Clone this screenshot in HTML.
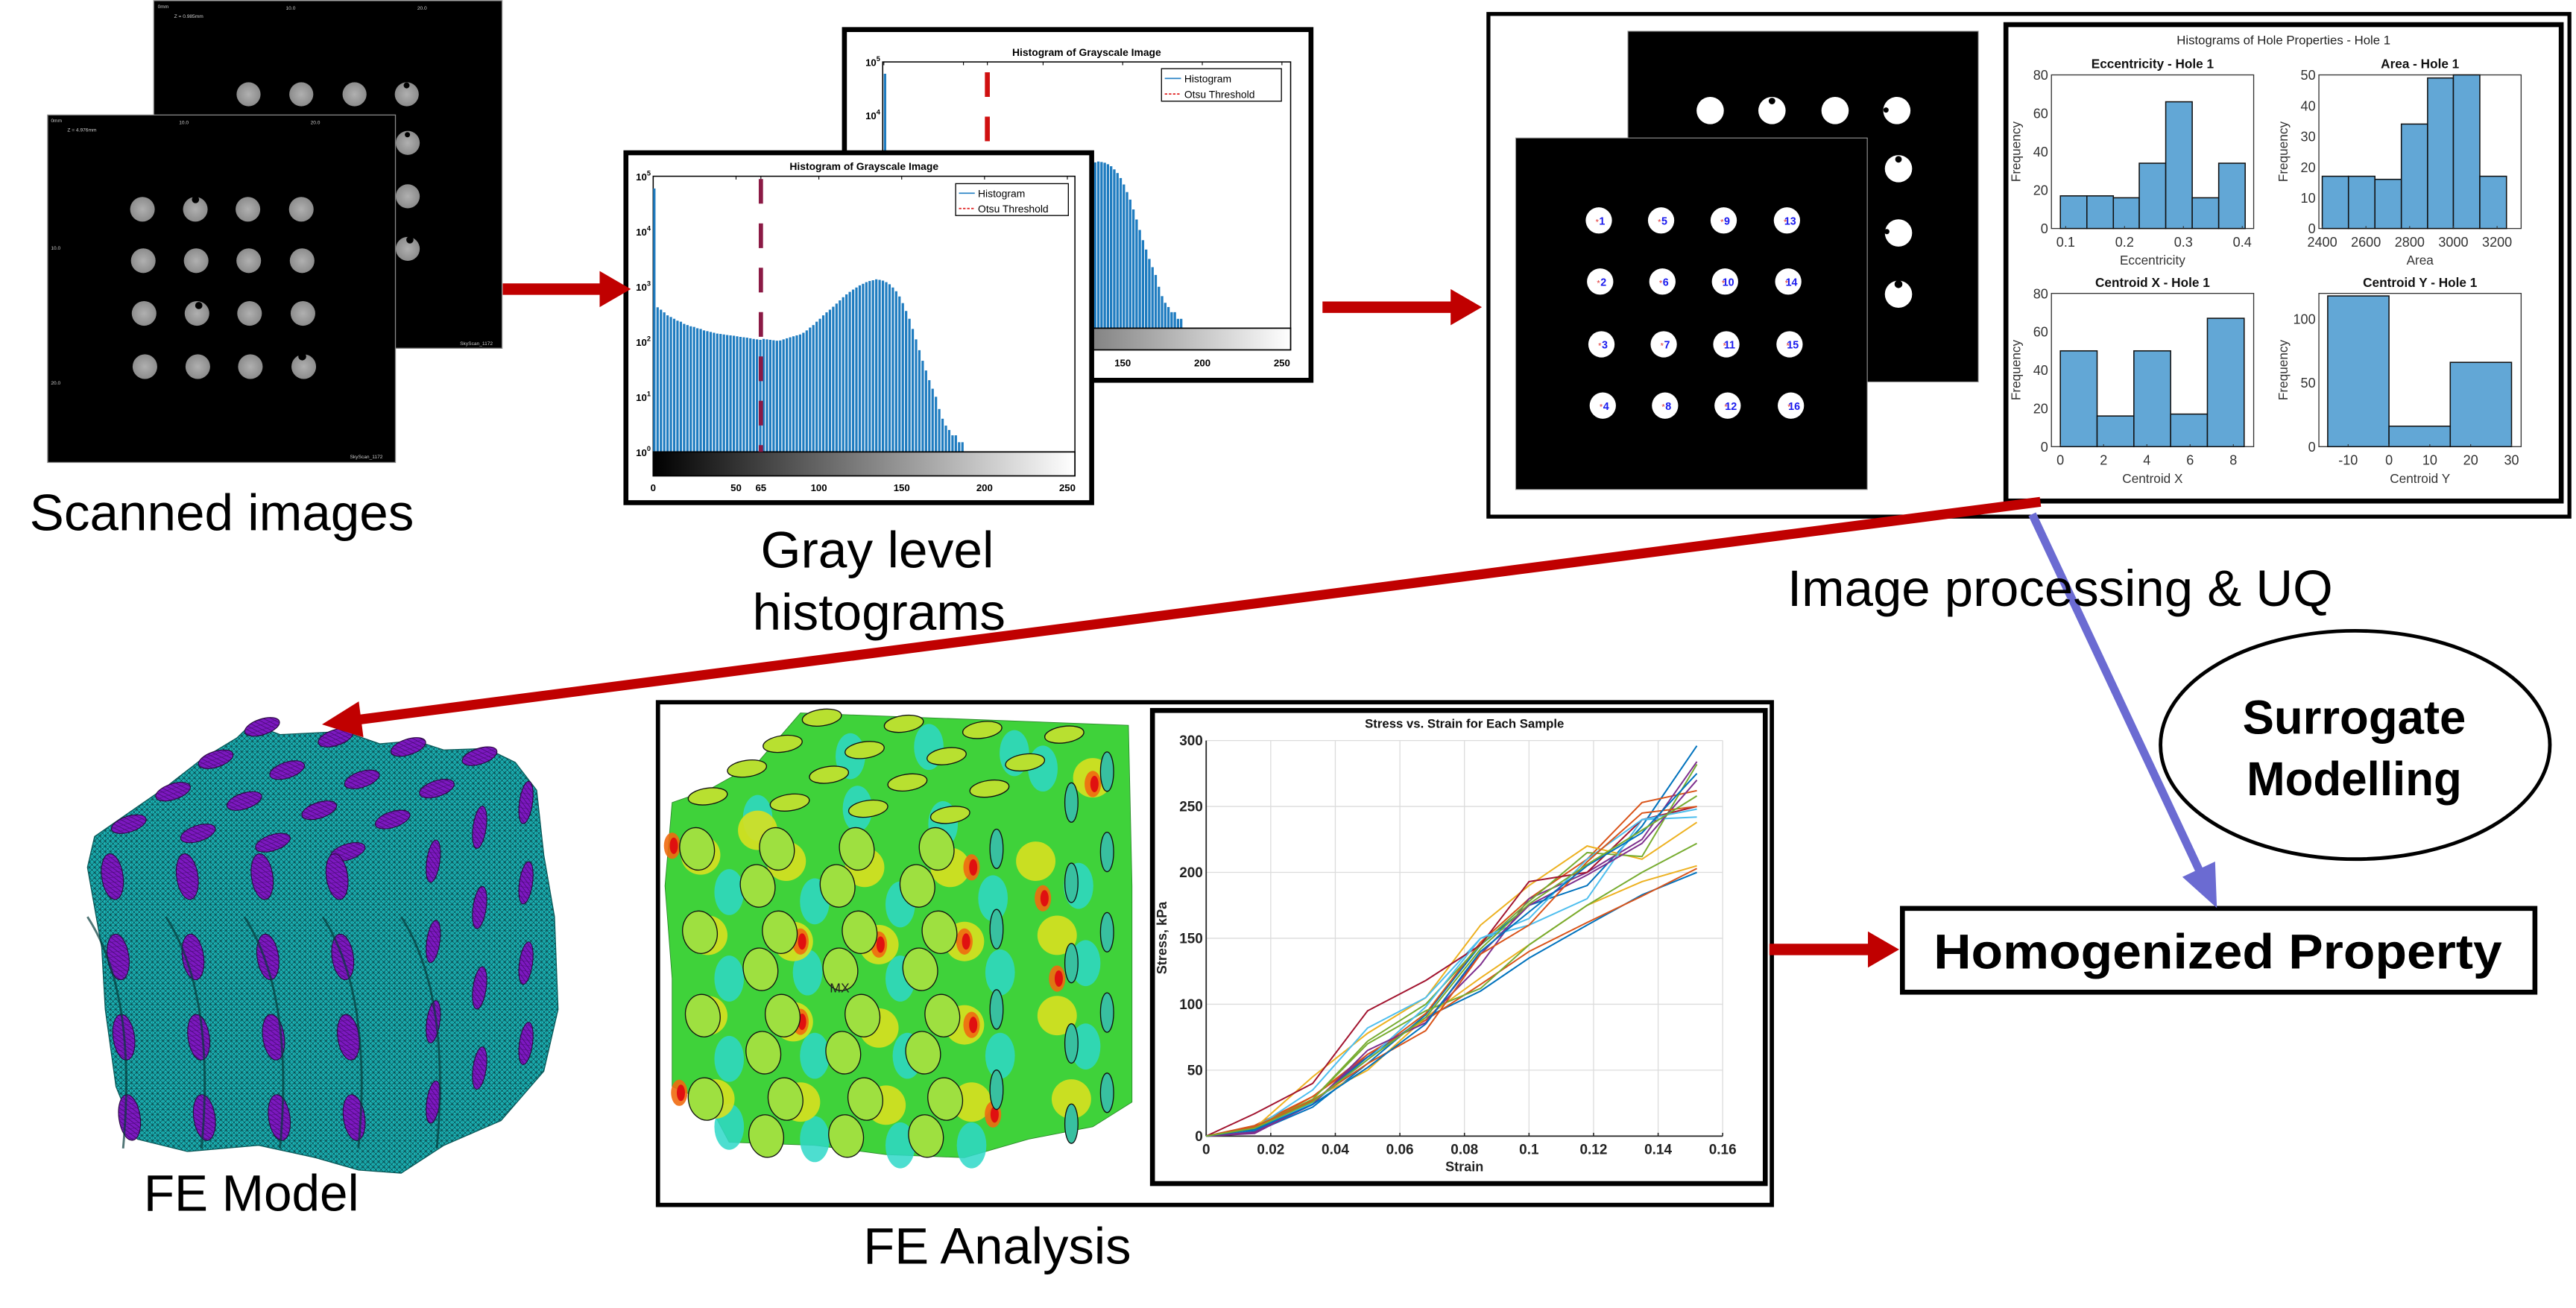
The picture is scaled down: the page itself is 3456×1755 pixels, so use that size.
<!DOCTYPE html>
<html><head><meta charset="utf-8"><title>Workflow figure</title>
<style>
html,body{margin:0;padding:0;background:#fff;}
svg{display:block;}
text{font-family:"Liberation Sans",Arial,sans-serif;}
</style></head>
<body>
<svg id="fig" xmlns="http://www.w3.org/2000/svg" width="3456" height="1755" viewBox="0 0 1568 796.25" preserveAspectRatio="none">
<defs>
<pattern id="mesh" width="3.2" height="3.2" patternUnits="userSpaceOnUse">
<rect width="3.2" height="3.2" fill="#1cb8ba"/>
<path d="M0 0L3.2 3.2M0 3.2L3.2 0M0 0H3.2M0 0V3.2" stroke="#083a3e" stroke-width="0.32"/>
</pattern>
<pattern id="meshP" width="3" height="3" patternUnits="userSpaceOnUse">
<rect width="3" height="3" fill="#7c18c0"/>
<path d="M0 0L3 3M0 0H3" stroke="#3a0860" stroke-width="0.3"/>
</pattern>
<linearGradient id="gbar" x1="0" x2="1" y1="0" y2="0"><stop offset="0" stop-color="#000"/><stop offset="1" stop-color="#fff"/></linearGradient>
<radialGradient id="scan" cx="0.5" cy="0.5" r="0.5"><stop offset="0" stop-color="#b0b0b0"/><stop offset="1" stop-color="#8c8c8c"/></radialGradient>
</defs>

<g>
<rect x="93.6" y="0.4" width="212" height="211.6" fill="#000" stroke="#888" stroke-width="0.6"/>
<text x="96" y="5" font-size="3" fill="#ccc">0mm</text>
<text x="106" y="11" font-size="3" fill="#ccc">Z = 0.985mm</text>
<text x="174" y="6" font-size="3" fill="#ccc">10.0</text>
<text x="254" y="6" font-size="3" fill="#ccc">20.0</text>
<text x="280" y="210" font-size="3" fill="#ccc">SkyScan_1172</text>
<g id="scanBackHoles"></g>
<rect x="29" y="70" width="211.7" height="211.5" fill="#000" stroke="#888" stroke-width="0.6"/>
<text x="31" y="74.5" font-size="3" fill="#ccc">0mm</text>
<text x="41" y="80" font-size="3" fill="#ccc">Z = 4.976mm</text>
<text x="109" y="75.5" font-size="3" fill="#ccc">10.0</text>
<text x="189" y="75.5" font-size="3" fill="#ccc">20.0</text>
<text x="31" y="152" font-size="3" fill="#ccc">10.0</text>
<text x="31" y="234" font-size="3" fill="#ccc">20.0</text>
<text x="213" y="279" font-size="3" fill="#ccc">SkyScan_1172</text>
<g id="scanFrontHoles"></g>
</g>

<g id="grayBack"></g>
<g id="grayFront"></g>

<rect x="906" y="8.5" width="658" height="306" fill="#fff" stroke="#000" stroke-width="2.4"/>
<rect x="990.9" y="19" width="213.3" height="213.5" fill="#000" stroke="#999" stroke-width="0.5"/>
<rect x="922.6" y="84" width="214" height="214" fill="#000" stroke="#999" stroke-width="0.5"/>
<g id="binHoles"></g>
<rect x="1221" y="15" width="338" height="290" fill="#fff" stroke="#000" stroke-width="3"/>
<g id="holeHists"></g>

<g id="feModel"></g>

<rect x="400.5" y="427.5" width="678" height="306" fill="#fff" stroke="#000" stroke-width="2.6"/>
<g id="feAnalysis"></g>
<rect x="701.5" y="432.5" width="373" height="288" fill="#fff" stroke="#000" stroke-width="3"/>
<g id="stressChart"></g>

<ellipse cx="1433.6" cy="453.5" rx="118.5" ry="69.5" fill="#fff" stroke="#000" stroke-width="2.2"/>
<text x="1433" y="446.6" font-size="29" font-weight="bold" text-anchor="middle" textLength="136" lengthAdjust="spacingAndGlyphs">Surrogate</text>
<text x="1433" y="484.2" font-size="29" font-weight="bold" text-anchor="middle" textLength="131" lengthAdjust="spacingAndGlyphs">Modelling</text>
<rect x="1158" y="553" width="385" height="51" fill="#fff" stroke="#000" stroke-width="3"/>
<text x="1350" y="589.5" font-size="30" font-weight="bold" text-anchor="middle" textLength="346" lengthAdjust="spacingAndGlyphs">Homogenized Property</text>

<g id="arrows"></g>

<text x="135" y="322.9" font-size="31" text-anchor="middle" textLength="234" lengthAdjust="spacingAndGlyphs">Scanned images</text>
<text x="534" y="345.5" font-size="31" text-anchor="middle" textLength="142" lengthAdjust="spacingAndGlyphs">Gray level</text>
<text x="535" y="383.3" font-size="31" text-anchor="middle" textLength="154" lengthAdjust="spacingAndGlyphs">histograms</text>
<text x="1254" y="368.9" font-size="31" text-anchor="middle" textLength="332" lengthAdjust="spacingAndGlyphs">Image processing &amp; UQ</text>
<text x="153" y="737" font-size="31" text-anchor="middle" textLength="131" lengthAdjust="spacingAndGlyphs">FE Model</text>
<text x="607" y="769.2" font-size="31" text-anchor="middle" textLength="163" lengthAdjust="spacingAndGlyphs">FE Analysis</text>
</svg>

<script>
const NS='http://www.w3.org/2000/svg';
function mk(tag,attrs,parent){const e=document.createElementNS(NS,tag);for(const k in attrs)e.setAttribute(k,attrs[k]);parent.appendChild(e);return e;}
function tx(str,attrs,parent){const e=mk('text',attrs,parent);e.textContent=str;return e;}
const $=id=>document.getElementById(id);

const strainPts=[0,0.015,0.033,0.05,0.068,0.085,0.1,0.118,0.135,0.152];
const sBlue=[0,3,22,55,92,145,175,190,235,296];
const sOrange=[0,8,30,60,93,147,180,210,253,262];
const sYellow=[0,6,45,78,105,160,190,220,210,238];
const sPurple=[0,2,25,62,88,130,180,200,225,284];
const sGreen=[0,5,28,72,100,145,178,215,212,282];
const sCyan=[0,6,35,82,105,150,160,180,240,242];
const sDarkRed=[0,17,40,95,118,145,193,200,240,250];
const sBlueLow=[0,4,25,60,90,110,135,160,183,200];
const sOrangeLow=[0,6,30,62,88,115,140,162,182,203];
const sYellowLow=[0,5,28,50,90,120,145,175,193,205];
const sGreenLow=[0,7,28,70,95,112,145,175,200,222];
const sCyan2=[0,5,25,58,98,150,165,210,240,248];
const sPurple2=[0,3,24,65,86,138,175,198,222,270];
const sOrange2=[0,7,27,55,80,138,160,208,245,250];
const sBlue2=[0,5,24,52,85,140,170,205,230,275];
const sGreen2=[0,6,26,58,90,142,176,206,232,258];
const stressSeries=[sBlue,sOrange,sYellow,sPurple,sGreen,sCyan,sDarkRed,sBlueLow,sOrangeLow,sYellowLow,sGreenLow,sCyan2,sPurple2,sOrange2,sBlue2,sGreen2];
const stressColors=['#0072BD','#D95319','#EDB120','#7E2F8E','#77AC30','#4DBEEE','#A2142F','#0072BD','#D95319','#EDB120','#77AC30','#4DBEEE','#7E2F8E','#D95319','#0072BD','#77AC30'];
const strainTicks=[0,0.02,0.04,0.06,0.08,0.1,0.12,0.14,0.16];
const strainTickLabels=['0','0.02','0.04','0.06','0.08','0.1','0.12','0.14','0.16'];
const stressTicks=[0,50,100,150,200,250,300];

const grayLevels=[0,2,4,6,8,10,12,14,16,18,20,22,24,26,28,30,32,34,36,38,40,42,44,46,48,50,52,54,56,58,60,62,64,66,68,70,72,74,76,78,80,82,84,86,88,90,92,94,96,98,100,102,104,106,108,110,112,114,116,118,120,122,124,126,128,130,132,134,136,138,140,142,144,146,148,150,152,154,156,158,160,162,164,166,168,170,172,174,176,178,180,182,184,186];
const grayCounts=[60000,420,380,340,300,280,260,240,230,210,200,190,185,175,170,160,155,150,145,140,138,135,132,130,128,125,122,120,118,115,112,110,108,112,110,108,106,104,105,110,115,120,125,130,135,145,160,180,200,230,260,300,340,380,430,490,560,640,720,800,880,960,1050,1120,1200,1260,1300,1350,1320,1280,1200,1100,960,820,660,500,360,260,170,110,70,45,30,20,14,10,6,4,3,2.5,2,2,1.5,1.5];
const grayXTicks=[0,50,65,100,150,200,250];
const grayYExp=[0,1,2,3,4,5];
const otsuThreshold=65;

const eccEdges=[0.091,0.136,0.181,0.225,0.270,0.315,0.360,0.405];
const eccCounts=[17,17,16,34,66,16,34];
const areaEdges=[2400,2520,2641,2762,2882,3000,3121,3243];
const areaCounts=[17,17,16,34,49,50,17];
const cxEdges=[0,1.7,3.4,5.1,6.8,8.5];
const cxCounts=[50,16,50,17,67];
const cyEdges=[-15,0,15,30];
const cyCounts=[118,16,66];

(function(){
  const fg=$('scanFrontHoles'), bg=$('scanBackHoles');
  const fx=[86.7,118.9,150.9,183.4], fy=[127.4,158.7,190.8,223.2];
  fy.forEach((y,r)=>fx.forEach((x,c)=>{
    const h=mk('circle',{cx:x+r*0.5,cy:y,r:7.5,fill:'url(#scan)'},fg);
    
    
  }));
  mk('circle',{cx:119,cy:121.5,r:2.2,fill:'#000'},fg);
  mk('circle',{cx:177,cy:136,r:1.8,fill:'#000'},fg);
  mk('circle',{cx:121,cy:186,r:2.2,fill:'#000'},fg);
  mk('circle',{cx:184,cy:217,r:2.4,fill:'#000'},fg);
  const bp=[[151.3,57.4],[183.4,57.4],[215.8,57.4],[247.6,57.4],[248.2,87],[248.2,119.5],[248.2,151.5]];
  bp.forEach(p=>{
    const h=mk('circle',{cx:p[0],cy:p[1],r:7.3,fill:'url(#scan)'},bg);
    
    
  });
  mk('circle',{cx:247.5,cy:52,r:1.8,fill:'#000'},bg);
  mk('circle',{cx:248,cy:82,r:1.6,fill:'#000'},bg);
  mk('circle',{cx:249.5,cy:146,r:2.2,fill:'#000'},bg);
})();

function grayHist(g,b,threshColor,threshStartY){
  const xG=v=>b.x0+v*(b.x250-b.x0)/250;
  const yL=v=>b.yBot-(Math.log10(v))*(b.yBot-b.yTop)/5;
  const box=mk('rect',{x:b.bx,y:b.by,width:b.bw,height:b.bh,fill:'#fff',stroke:'#000','stroke-width':3},g);
  
  
  const t=tx('Histogram of Grayscale Image',{x:(b.pl+b.pr)/2,y:b.titleY,'font-size':b.fs*1.05,'font-weight':'bold','text-anchor':'middle'},g);
  
  
  mk('rect',{x:b.pl,y:b.yTop,width:b.pr-b.pl,height:b.yBot-b.yTop,fill:'#fff',stroke:'#000','stroke-width':0.7},g);
  grayLevels.forEach((lv,i)=>{
    const y=yL(grayCounts[i]);
    const bar=mk('rect',{x:xG(lv)-0.05,y:Math.max(y,b.yTop),width:b.bwid,height:b.yBot-Math.max(y,b.yTop),fill:'#1f7cc0'},g);
    
    
  });
  const cb=mk('rect',{x:b.pl,y:b.yBot,width:b.pr-b.pl,height:b.cbBot-b.yBot,fill:'url(#gbar)',stroke:'#000','stroke-width':0.8},g);
  
  
  grayXTicks.forEach(v=>{
    mk('line',{x1:xG(v),x2:xG(v),y1:b.yTop,y2:b.yTop+2,stroke:'#000','stroke-width':0.5},g);
    const l=tx(String(v),{x:xG(v),y:b.lblY,'font-size':b.fs,'font-weight':'bold','text-anchor':'middle'},g);
    
    
  });
  grayYExp.forEach(e=>{
    const y=b.yBot-e*(b.yBot-b.yTop)/5;
    const l=tx('10',{x:b.pl-1.5,y:y+2.5,'font-size':b.fs,'font-weight':'bold','text-anchor':'end'},g);
    const s=mk('tspan',{dy:-3,'font-size':b.fs*0.7},l);s.textContent=String(e);
    
    
  });
  const th=mk('line',{x1:xG(otsuThreshold),x2:xG(otsuThreshold),y1:threshStartY,y2:b.yBot,stroke:threshColor,'stroke-width':b.tw,'stroke-dasharray':b.dash},g);
  
  
  const lg=mk('rect',{x:b.lgx,y:b.lgy,width:b.lgw,height:b.lgh,fill:'#fff',stroke:'#000','stroke-width':0.6},g);
  
  
  mk('line',{x1:b.lgx+2,x2:b.lgx+b.lgh*0.6,y1:b.lgy+b.lgh*0.3,y2:b.lgy+b.lgh*0.3,stroke:'#2f86c6','stroke-width':0.8},g);
  mk('line',{x1:b.lgx+2,x2:b.lgx+b.lgh*0.6,y1:b.lgy+b.lgh*0.78,y2:b.lgy+b.lgh*0.78,stroke:'#e02020','stroke-width':0.8,'stroke-dasharray':'1.5 1'},g);
  const e1=tx('Histogram',{x:b.lgx+b.lgh*0.7,y:b.lgy+b.lgh*0.42,'font-size':b.fs*1.05},g);
  
  
  const e2=tx('Otsu Threshold',{x:b.lgx+b.lgh*0.7,y:b.lgy+b.lgh*0.9,'font-size':b.fs*1.05},g);
  
  
}
grayHist($('grayBack'),{bx:514,by:18,bw:284,bh:213.5,pl:537.3,pr:785.6,x0:538,x250:780.3,yTop:37.7,yBot:199.8,cbBot:213,lblY:223,titleY:34,fs:6,bwid:1.5,tw:3,dash:'15 12',lgx:707,lgy:41.8,lgw:73,lgh:19.8},'#d01010',44);
grayHist($('grayFront'),{bx:381,by:93,bw:283.5,bh:213,pl:397.6,pr:654.3,x0:397.6,x250:649.7,yTop:107.3,yBot:275.1,cbBot:289.7,lblY:299,titleY:103.5,fs:6,bwid:1.45,tw:2.6,dash:'15 12',lgx:581.7,lgy:111.8,lgw:68.6,lgh:19.4},'#8b1a45',109);

(function(){
  const g=$('binHoles');
  const fx=[973.2,1011.1,1049.2,1087.7], fy=[134.2,171.4,209.6,246.9];
  let n=1;
  fx.forEach((x,c)=>fy.forEach((y,r)=>{
    const h=mk('circle',{cx:x+r*0.8,cy:y,r:8,fill:'#fff'},g);
    
    
    mk('text',{x:x+r*0.8-2,y:y+2.5,'font-size':5,fill:'#e03030'},g).textContent='*';
    const l=tx(String(n),{x:x+r*0.8+2,y:y+2.6,'font-size':6.5,'font-weight':'bold',fill:'#1a1aee','text-anchor':'middle'},g);
    
    
    n++;
  }));
  const bp=[[1041,67.3],[1078.6,67.3],[1117,67.3],[1154.6,67.3],[1155.6,102.7],[1155.6,141.8],[1155.6,179.1]];
  bp.forEach(p=>{
    const h=mk('circle',{cx:p[0],cy:p[1],r:8.3,fill:'#fff'},g);
    
    
  });
  mk('circle',{cx:1078.6,cy:61.5,r:2,fill:'#000'},g);
  mk('circle',{cx:1148,cy:67,r:1.6,fill:'#000'},g);
  mk('circle',{cx:1155.6,cy:97,r:2,fill:'#000'},g);
  mk('circle',{cx:1148.5,cy:141,r:1.6,fill:'#000'},g);
  mk('circle',{cx:1155.6,cy:173,r:2.4,fill:'#000'},g);
})();

(function(){
  const g=$('holeHists');
  const t=tx('Histograms of Hole Properties - Hole 1',{x:1390,y:27,'font-size':7.6,'text-anchor':'middle',fill:'#222'},g);
  
  
  const panels=[
    {title:'Eccentricity - Hole 1',xl:'Eccentricity',edges:eccEdges,counts:eccCounts,xmin:0.0758,xmax:0.4194,ymax:80,yt:[0,20,40,60,80],xt:[0.1,0.2,0.3,0.4],x0:1248.7,x1:1371.8,y0:45.6,y1:139.1,name:'eccentricity'},
    {title:'Area - Hole 1',xl:'Area',edges:areaEdges,counts:areaCounts,xmin:2384.7,xmax:3310,ymax:50,yt:[0,10,20,30,40,50],xt:[2400,2600,2800,3000,3200],x0:1411.5,x1:1534.6,y0:45.6,y1:139.1,name:'area'},
    {title:'Centroid X - Hole 1',xl:'Centroid X',edges:cxEdges,counts:cxCounts,xmin:-0.412,xmax:8.94,ymax:80,yt:[0,20,40,60,80],xt:[0,2,4,6,8],x0:1248.7,x1:1371.8,y0:178.6,y1:271.9,name:'centroid-x'},
    {title:'Centroid Y - Hole 1',xl:'Centroid Y',edges:cyEdges,counts:cyCounts,xmin:-17.16,xmax:32.35,ymax:120,yt:[0,50,100],xt:[-10,0,10,20,30],x0:1411.5,x1:1534.6,y0:178.6,y1:271.9,name:'centroid-y'}
  ];
  panels.forEach(p=>{
    const X=v=>p.x0+(v-p.xmin)/(p.xmax-p.xmin)*(p.x1-p.x0);
    const Y=v=>p.y1-v/p.ymax*(p.y1-p.y0);
    const ax=mk('rect',{x:p.x0,y:p.y0,width:p.x1-p.x0,height:p.y1-p.y0,fill:'#fff',stroke:'#333','stroke-width':0.6},g);
    
    
    p.counts.forEach((c,i)=>{
      const b=mk('rect',{x:X(p.edges[i]),y:Y(c),width:X(p.edges[i+1])-X(p.edges[i]),height:Y(0)-Y(c),fill:'#62a7d6',stroke:'#111','stroke-width':0.7},g);
      
      
    });
    p.yt.forEach(v=>{
      const l=tx(String(v),{x:p.x0-2,y:Y(v)+3,'font-size':8.2,'text-anchor':'end',fill:'#333'},g);
      
      
    });
    p.xt.forEach(v=>{
      mk('line',{x1:X(v),x2:X(v),y1:p.y1,y2:p.y1-1.5,stroke:'#333','stroke-width':0.5},g);
      const l=tx(String(v),{x:X(v),y:p.y1+11,'font-size':8.2,'text-anchor':'middle',fill:'#333'},g);
      
      
    });
    const tt=tx(p.title,{x:(p.x0+p.x1)/2,y:p.y0-4,'font-size':7.8,'font-weight':'bold','text-anchor':'middle',fill:'#111'},g);
    
    
    const xl=tx(p.xl,{x:(p.x0+p.x1)/2,y:p.y1+22,'font-size':7.8,'text-anchor':'middle',fill:'#333'},g);
    
    
    const yx=p.x0-19, yy=(p.y0+p.y1)/2;
    const yl=tx('Frequency',{x:yx,y:yy,'font-size':7.8,'text-anchor':'middle',fill:'#333',transform:`rotate(-90 ${yx} ${yy})`},g);
    
    
  });
})();

(function(){
  const g=$('feModel');
  const P=(zx,zy)=>[27.2+zx*0.434,426.5+zy*0.188];
  const outline=[[290,75],[330,110],[420,100],[470,140],[520,130],[560,160],[620,155],[660,200],[690,290],[700,500],[715,700],[720,1000],[700,1200],[640,1360],[560,1440],[500,1530],[440,1520],[380,1480],[300,1440],[200,1460],[130,1420],[100,1250],[85,1000],[80,800],[60,540],[70,440],[120,360],[170,280],[220,190],[270,120]];
  const pts=outline.map(q=>P(q[0],q[1]).join(',')).join(' ');
  const body=mk('polygon',{points:pts,fill:'url(#mesh)',stroke:'#0a5a5a','stroke-width':0.6},g);
  
  
  const caps=[[305,85],[408,120],[510,150],[610,180],[240,190],[340,225],[445,255],[550,285],[180,295],[280,325],[385,355],[488,385],[118,400],[215,430],[320,460],[425,490]];
  caps.forEach(c=>{
    const p=P(c[0],c[1]);
    const e=mk('ellipse',{cx:p[0],cy:p[1],rx:11,ry:4.8,fill:'url(#meshP)',stroke:'#2a0a40','stroke-width':0.5,transform:`rotate(-18 ${p[0]} ${p[1]})`},g);
    
    
  });
  const fronts=[];
  for(let r=0;r<4;r++){for(let c=0;c<4;c++){fronts.push([95+c*105+r*8,570+r*260]);}}
  fronts.forEach(c=>{
    const p=P(c[0],c[1]);
    const e=mk('ellipse',{cx:p[0],cy:p[1],rx:6.5,ry:14,fill:'url(#meshP)',stroke:'#2a0a40','stroke-width':0.5,transform:`rotate(-8 ${p[0]} ${p[1]})`},g);
    
    
  });
  const sides=[];
  for(let r=0;r<4;r++){[[545,520],[610,410],[675,330]].forEach(q=>sides.push([q[0],q[1]+r*260]));}
  sides.forEach(c=>{
    const p=P(c[0],c[1]);
    const e=mk('ellipse',{cx:p[0],cy:p[1],rx:4,ry:13,fill:'url(#meshP)',stroke:'#2a0a40','stroke-width':0.5,transform:`rotate(8 ${p[0]} ${p[1]})`},g);
    
    
  });
  for(let k=0;k<5;k++){
    mk('path',{d:`M${P(60+k*110,700).join(',')} Q${P(130+k*110,950).join(',')} ${P(110+k*110,1450).join(',')}`,stroke:'#063a3a','stroke-width':1.3,fill:'none',opacity:0.7},g);
  }
})();

(function(){
  const g=$('feAnalysis');
  const P=(zx,zy)=>[27.2+zx*0.434,426.5+zy*0.188];
  const outline=[[1060,40],[1520,80],[1525,600],[1525,1300],[1470,1380],[1380,1420],[1290,1480],[1180,1470],[1080,1440],[960,1430],[930,1300],[880,1250],[880,900],[870,600],[880,330],[930,290],[1000,200]];
  const pts=outline.map(q=>P(q[0],q[1]).join(',')).join(' ');
  const body=mk('polygon',{points:pts,fill:'#3fd23a',stroke:'#2a8a2a','stroke-width':0.4},g);
  
  
  const cy=[[1000,380],[1140,350],[1260,400],[1400,220],[960,620],[1080,650],[1200,660],[1330,640],[1450,600],[960,900],[1070,880],[1200,900],[1340,880],[1460,850],[960,1160],[1080,1150],[1210,1150],[1340,1150],[1460,1120],[960,1380],[1080,1420],[1200,1440],[1300,1440],[1130,180],[1240,150],[1360,170]];
  cy.forEach(c=>{const p=P(c[0],c[1]);mk('ellipse',{cx:p[0],cy:p[1],rx:9,ry:14,fill:'#2ed8c8',opacity:0.85},g);});
  const yl=[[920,500],[1040,520],[1150,540],[1270,540],[1390,520],[930,760],[1050,780],[1170,790],[1290,780],[1420,760],[930,1020],[1050,1040],[1170,1060],[1290,1050],[1420,1020],[940,1290],[1060,1300],[1180,1310],[1300,1300],[1440,1290],[1470,250],[1000,420]];
  yl.forEach(c=>{const p=P(c[0],c[1]);mk('ellipse',{cx:p[0],cy:p[1],rx:12,ry:12,fill:'#d8e020',opacity:0.9},g);});
  const red=[[1300,540],[1060,780],[1170,790],[1290,780],[1400,640],[1420,900],[1060,1040],[1300,1050],[890,1270],[1330,1340],[880,470],[1470,270]];
  red.forEach(c=>{const p=P(c[0],c[1]);mk('ellipse',{cx:p[0],cy:p[1],rx:5,ry:8,fill:'#ef6a10',opacity:0.9},g);mk('ellipse',{cx:p[0]+1,cy:p[1],rx:2.5,ry:5,fill:'#e01010'},g);});
  const holes=[];
  for(let r=0;r<4;r++){for(let c=0;c<4;c++){holes.push([915+c*112+r*4,480+r*270]);}}
  for(let r=0;r<4;r++){for(let c=0;c<3;c++){holes.push([1000+c*112+r*4,600+r*270]);}}
  holes.forEach(c=>{
    const p=P(c[0],c[1]);
    const e=mk('ellipse',{cx:p[0],cy:p[1],rx:10.5,ry:13,fill:'#9ee040',stroke:'#111','stroke-width':0.6,transform:`rotate(-10 ${p[0]} ${p[1]})`},g);
    
    
  });
  const side=[];
  for(let r=0;r<5;r++){[[1335,480],[1440,330],[1490,230]].forEach(q=>side.push([q[0],q[1]+r*260]));}
  side.forEach(c=>{const p=P(c[0],c[1]);if(p[1]<700){const e=mk('ellipse',{cx:p[0],cy:p[1],rx:4,ry:12,fill:'#38c0a0',stroke:'#111','stroke-width':0.6},g);}});
  const caps=[[1090,55],[1205,75],[1315,95],[1430,110],[1035,140],[1150,160],[1265,180],[1375,200],[985,220],[1100,240],[1210,265],[1325,285],[930,310],[1045,330],[1155,350],[1270,370]];
  caps.forEach(c=>{
    const p=P(c[0],c[1]);
    const e=mk('ellipse',{cx:p[0],cy:p[1],rx:12,ry:5,fill:'#b8e030',stroke:'#111','stroke-width':0.6,transform:`rotate(-8 ${p[0]} ${p[1]})`},g);
    
    
  });
  const mx=P(1115,945);
  tx('MX',{x:mx[0],y:mx[1],'font-size':8,'font-family':'Liberation Serif, serif',fill:'#222','text-anchor':'middle'},g);
})();

(function(){
  const g=$('stressChart');
  const xL=734.2,xR=1048.6,yT=450.8,yB=691.6;
  const X=v=>xL+v/0.16*(xR-xL);
  const Y=v=>yB-v/300*(yB-yT);
  strainTicks.forEach((v,i)=>{
    const gl=mk('line',{x1:X(v),x2:X(v),y1:yT,y2:yB,stroke:'#dcdcdc','stroke-width':0.6},g);
    
    
    mk('line',{x1:X(v),x2:X(v),y1:yB,y2:yB-2,stroke:'#222','stroke-width':0.7},g);
    const l=tx(strainTickLabels[i],{x:X(v),y:yB+11,'font-size':8.6,'font-weight':'bold','text-anchor':'middle',fill:'#222'},g);
    
    
  });
  stressTicks.forEach(v=>{
    const gl=mk('line',{x1:xL,x2:xR,y1:Y(v),y2:Y(v),stroke:'#dcdcdc','stroke-width':0.6},g);
    
    
    const l=tx(String(v),{x:xL-2,y:Y(v)+3,'font-size':8.6,'font-weight':'bold','text-anchor':'end',fill:'#222'},g);
    
    
  });
  mk('line',{x1:xL,x2:xL,y1:yT,y2:yB,stroke:'#222','stroke-width':0.8},g);
  mk('line',{x1:xL,x2:xR,y1:yB,y2:yB,stroke:'#222','stroke-width':0.8},g);
  stressSeries.forEach((s,i)=>{
    const d=s.map((v,j)=>(j?'L':'M')+X(strainPts[j]).toFixed(2)+','+Y(v).toFixed(2)).join('');
    const p=mk('path',{d:d,fill:'none',stroke:stressColors[i],'stroke-width':0.9},g);
    
    
  });
  const t=tx('Stress vs. Strain for Each Sample',{x:(xL+xR)/2,y:443,'font-size':7.6,'font-weight':'bold','text-anchor':'middle',fill:'#111'},g);
  
  
  const xl=tx('Strain',{x:(xL+xR)/2,y:713,'font-size':8.2,'font-weight':'bold','text-anchor':'middle',fill:'#222'},g);
  
  
  const yl=tx('Stress, kPa',{x:710,y:571,'font-size':8.2,'font-weight':'bold','text-anchor':'middle',fill:'#222',transform:'rotate(-90 710 571)'},g);
  
  
})();

function arrow(x1,y1,x2,y2,w,hw,hl,color,name){
  const dx=x2-x1,dy=y2-y1,L=Math.hypot(dx,dy),ux=dx/L,uy=dy/L,nx=-uy,ny=ux;
  const bx=x2-ux*hl,by=y2-uy*hl;
  const p=[[x1+nx*w/2,y1+ny*w/2],[bx+nx*w/2,by+ny*w/2],[bx+nx*hw/2,by+ny*hw/2],[x2,y2],[bx-nx*hw/2,by-ny*hw/2],[bx-nx*w/2,by-ny*w/2],[x1-nx*w/2,y1-ny*w/2]];
  const a=mk('polygon',{points:p.map(q=>q[0].toFixed(2)+','+q[1].toFixed(2)).join(' '),fill:color},$('arrows'));
  
  
}
arrow(306,176,384,176,7,22,19,'#c00000','arrow-scan-to-histogram');
arrow(805,187,902,187,7,22,19,'#c00000','arrow-histogram-to-processing');
arrow(1242,305.5,196,441,6,22,24,'#c00000','arrow-processing-to-fe-model');
arrow(1237,313,1349.4,552.7,5,22,26,'#6b6bd2','arrow-uq-to-property');
arrow(1077,578,1156,578,7,22,19,'#c00000','arrow-fe-to-property');
</script>
</body></html>
